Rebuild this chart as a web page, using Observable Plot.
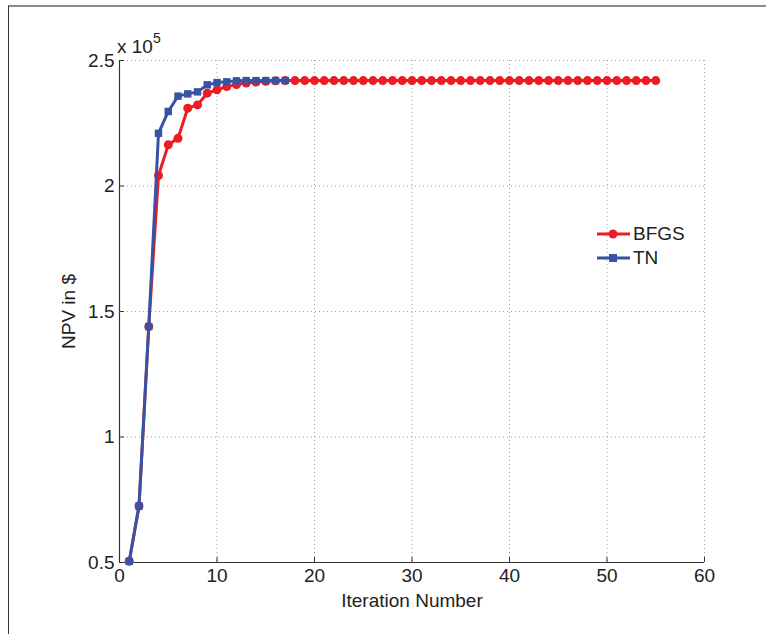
<!DOCTYPE html>
<html>
<head>
<meta charset="utf-8">
<script src="https://cdn.jsdelivr.net/npm/d3@7"></script>
<script src="https://cdn.jsdelivr.net/npm/@observablehq/plot@0.6"></script>
<style>
  html, body { margin: 0; padding: 0; background: #fff; }
  #wrap { position: relative; width: 766px; height: 634px; overflow: hidden; font-family: "Liberation Sans", Arial, Helvetica, sans-serif; }
  #frame { position: absolute; left: 8px; top: 5px; right: -2px; bottom: -2px; border-top: 2px solid #8a8a8a; border-left: 1.5px solid #333; pointer-events: none; }
  #chart { position: absolute; left: 0; top: 0; }
  #expo { position: absolute; left: 117px; top: 33px; font-size: 19px; color: #222; }
  #expo sup { font-size: 14px; position: relative; top: -3px; }
  #legend { position: absolute; left: 597px; top: 222px; font-size: 19px; color: #222; }
  .lg { display: flex; align-items: center; height: 24px; }
  .lg svg { margin-right: 3px; }
</style>
</head>
<body>
<div id="wrap">
  <div id="chart"></div>
  <div id="frame"></div>
  <div id="expo">x 10<sup>5</sup></div>
  <div id="legend"></div>
</div>
<script>
// Iterations and NPV values (in $)
const bfgsIter = [1,2,3,4,5,6,7,8,9,10,11,12,13,14,15,16,17,18,19,20,21,22,23,24,25,26,27,28,29,30,
  31,32,33,34,35,36,37,38,39,40,41,42,43,44,45,46,47,48,49,50,51,52,53,54,55];
const bfgsNPV = [50500, 72500, 144000, 204200, 216400, 219000, 231000, 232300, 237000, 238300,
  239600, 240400, 241000, 241400, 241700, 241900, 242000, 242000, 242000, 242000,
  242000, 242000, 242000, 242000, 242000, 242000, 242000, 242000, 242000, 242000,
  242000, 242000, 242000, 242000, 242000, 242000, 242000, 242000, 242000, 242000,
  242000, 242000, 242000, 242000, 242000, 242000, 242000, 242000, 242000, 242000,
  242000, 242000, 242000, 242000, 242000];
const tnIter = [1,2,3,4,5,6,7,8,9,10,11,12,13,14,15,16,17];
const tnNPV = [50500, 72500, 144000, 221000, 229700, 235800, 236700, 237500, 240300, 241200,
  241500, 241900, 242000, 242000, 242000, 242000, 242000];

const xTicks = [0, 10, 20, 30, 40, 50, 60];
const yTicks = [50000, 100000, 150000, 200000, 250000];
const seriesNames = ["BFGS", "TN"];
const seriesColors = ["#ec1c24", "#3653a4"];

const bfgs = bfgsIter.map((x, i) => ({x, y: bfgsNPV[i]}));
const tn = tnIter.map((x, i) => ({x, y: tnNPV[i]}));

const W = 766, H = 634;
const mL = 119, mR = 62, mT = 60, mB = 72;
const pw = W - mL - mR, ph = H - mT - mB;

const chart = Plot.plot({
  width: W, height: H,
  marginLeft: mL, marginRight: mR, marginTop: mT, marginBottom: mB,
  style: {fontSize: "19px", fontFamily: "'Liberation Sans', Arial, Helvetica, sans-serif", color: "#222", background: "transparent"},
  x: {domain: [0, 60]},
  y: {domain: [50000, 250000]},
  marks: [
    Plot.gridX(xTicks.slice(1), {stroke: "#777", strokeOpacity: 0.7, strokeDasharray: "1,3"}),
    Plot.gridY(yTicks.slice(1), {stroke: "#777", strokeOpacity: 0.7, strokeDasharray: "1,3"}),
    Plot.ruleX([0], {stroke: "#333", strokeWidth: 1.2}),
    Plot.ruleY([50000], {stroke: "#333", strokeWidth: 1.2}),
    Plot.tickX(xTicks, {x: d => d, insetTop: ph - 5, stroke: "#333"}),
    Plot.tickY(yTicks, {y: d => d, insetRight: pw - 5, stroke: "#333"}),
    Plot.axisX(xTicks, {tickSize: 0, tickPadding: 6, label: "Iteration Number", labelAnchor: "center", labelArrow: false, labelOffset: 44}),
    Plot.axisY(yTicks, {tickSize: 0, tickPadding: 5, tickFormat: d => String(d / 1e5), label: "NPV in $", labelAnchor: "center", labelArrow: false, labelOffset: 58}),
    Plot.line(bfgs, {x: "x", y: "y", stroke: seriesColors[0], strokeWidth: 3}),
    Plot.dot(bfgs, {x: "x", y: "y", r: 4.5, fill: seriesColors[0], symbol: "circle"}),
    Plot.line(tn, {x: "x", y: "y", stroke: seriesColors[1], strokeWidth: 3}),
    Plot.dot(tn, {x: "x", y: "y", r: 4.2, fill: seriesColors[1], symbol: "square"})
  ]
});
document.getElementById("chart").appendChild(chart);

// Legend
const legend = document.getElementById("legend");
seriesNames.forEach((name, i) => {
  const row = document.createElement("div");
  row.className = "lg";
  const marker = i === 0
    ? `<circle cx="16" cy="6" r="4.5" fill="${seriesColors[i]}"/>`
    : `<rect x="12" y="2" width="8" height="8" fill="${seriesColors[i]}"/>`;
  row.innerHTML = `<svg width="33" height="12"><line x1="0" y1="6" x2="33" y2="6" stroke="${seriesColors[i]}" stroke-width="3"/>${marker}</svg><span>${name}</span>`;
  legend.appendChild(row);
});
</script>
</body>
</html>
